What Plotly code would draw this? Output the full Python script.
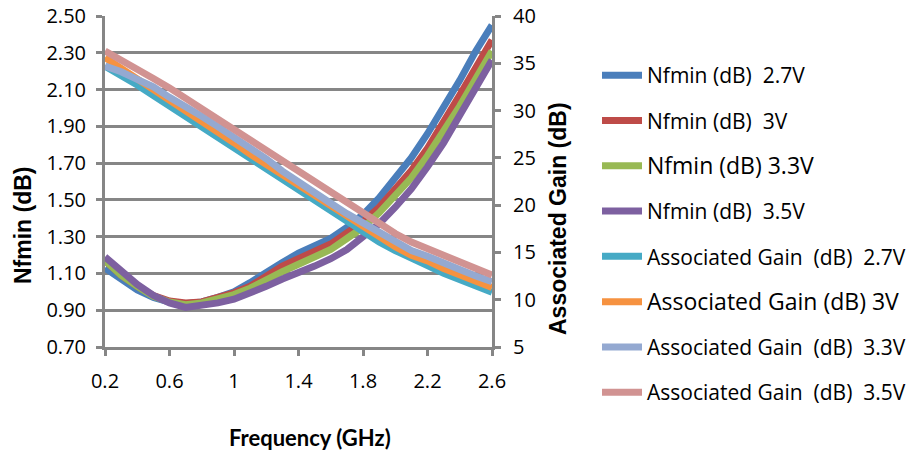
import plotly.graph_objects as go

freq = [0.2, 0.3, 0.4, 0.5, 0.6, 0.7, 0.8, 0.9, 1.0, 1.1, 1.2, 1.3, 1.4,
        1.5, 1.6, 1.7, 1.8, 1.9, 2.0, 2.1, 2.2, 2.3, 2.4, 2.5, 2.6]

nf_27 = [1.13, 1.07, 1.01, 0.97, 0.945, 0.935, 0.945, 0.97, 1.00, 1.05, 1.11, 1.16, 1.21,
         1.25, 1.29, 1.35, 1.42, 1.51, 1.62, 1.73, 1.86, 2.00, 2.15, 2.31, 2.45]
nf_30 = [1.17, 1.09, 1.03, 0.98, 0.95, 0.94, 0.945, 0.97, 0.995, 1.03, 1.09, 1.14, 1.18,
         1.22, 1.26, 1.32, 1.38, 1.46, 1.56, 1.66, 1.78, 1.92, 2.07, 2.22, 2.37]
nf_33 = [1.17, 1.09, 1.03, 0.975, 0.945, 0.93, 0.94, 0.96, 0.985, 1.02, 1.07, 1.11, 1.15,
         1.19, 1.23, 1.29, 1.35, 1.43, 1.52, 1.62, 1.74, 1.87, 2.01, 2.16, 2.31]
nf_35 = [1.19, 1.11, 1.04, 0.98, 0.94, 0.915, 0.925, 0.94, 0.96, 0.99, 1.03, 1.07, 1.10,
         1.14, 1.18, 1.23, 1.30, 1.37, 1.46, 1.56, 1.68, 1.81, 1.96, 2.11, 2.26]

ga_27 = [34.7, 33.8, 32.7, 31.6, 30.5, 29.4, 28.3, 27.2, 26.1, 24.9, 23.8, 22.7, 21.5,
         20.4, 19.3, 18.2, 17.2, 16.1, 15.2, 14.3, 13.6, 12.8, 12.1, 11.4, 10.8]
ga_30 = [35.6, 34.5, 33.2, 32.1, 31.1, 29.9, 28.8, 27.7, 26.6, 25.4, 24.3, 23.2, 22.0,
         20.9, 19.8, 18.7, 17.7, 16.6, 15.6, 14.7, 14.1, 13.3, 12.6, 12.0, 11.3]
ga_33 = [34.7, 34.1, 33.3, 32.5, 31.4, 30.5, 29.4, 28.3, 27.2, 26.0, 24.9, 23.6, 22.4,
         21.3, 20.2, 19.1, 18.1, 17.0, 16.0, 15.2, 14.6, 13.8, 13.2, 12.5, 11.9]
ga_35 = [36.3, 35.4, 34.4, 33.4, 32.4, 31.3, 30.2, 29.1, 28.0, 26.8, 25.7, 24.6, 23.4,
         22.3, 21.2, 20.1, 19.1, 18.0, 17.0, 16.1, 15.4, 14.6, 13.9, 13.2, 12.6]

nf_ticks = [0.7, 0.9, 1.1, 1.3, 1.5, 1.7, 1.9, 2.1, 2.3, 2.5]
ga_ticks = [5, 10, 15, 20, 25, 30, 35, 40]
f_ticks = [0.2, 0.6, 1.0, 1.4, 1.8, 2.2, 2.6]
f_labels = ["0.2", "0.6", "1", "1.4", "1.8", "2.2", "2.6"]

NB = "\u00a0"
series = [
    (f"Nfmin (dB){NB} 2.7V", nf_27, "y", "#4A7EBB", None),
    (f"Nfmin (dB){NB} 3V", nf_30, "y", "#BE4B48", None),
    ("Nfmin (dB) 3.3V", nf_33, "y", "#98B954", 23),
    (f"Nfmin (dB){NB} 3.5V", nf_35, "y", "#7D60A0", None),
    (f"Associated Gain{NB} (dB){NB} 2.7V", ga_27, "y2", "#46AAC5", None),
    ("Associated Gain (dB) 3V", ga_30, "y2", "#F69240", 23),
    (f"Associated Gain{NB} (dB){NB} 3.3V", ga_33, "y2", "#94A9D1", None),
    (f"Associated Gain{NB} (dB){NB} 3.5V", ga_35, "y2", "#D19392", None),
]

# plot frame lands at x 105..492, y 16..347 of the 909x452 picture
PX0, PX1, PY0, PY1 = 105, 492, 16, 347
W, H = 909, 452


def px(x):
    return (x - PX0) / (PX1 - PX0)


def py(y):
    return (PY1 - y) / (PY1 - PY0)


grid = "#868686"
fig = go.Figure()
for i, (name, vals, ax, col, fs) in enumerate(series):
    label = name if fs is None else f"<span style='font-size:{fs}px'>{name}</span>"
    fig.add_trace(go.Scatter(
        x=freq, y=vals, yaxis=ax, mode="lines", name=label,
        line=dict(color=col, width=7), legendgroup=f"g{i}",
    ))

tickfont = dict(family="Open Sans, sans-serif", size=20, color="black")
common = dict(showline=True, linecolor=grid, linewidth=3, ticks="outside",
              ticklen=6, tickwidth=3, tickcolor=grid, zeroline=False,
              tickfont=tickfont, ticklabeloverflow="allow")
fig.update_layout(
    width=W, height=H,
    margin=dict(l=PX0, r=W - PX1, t=PY0, b=H - PY1, autoexpand=False),
    paper_bgcolor="white", plot_bgcolor="white",
    font=dict(family="Open Sans, sans-serif", size=20, color="black"),
    showlegend=True,
    legend=dict(x=px(597), xanchor="left", y=py(55), yanchor="top",
                font=dict(size=21, family="Open Sans, sans-serif", color="black"),
                tracegroupgap=15, itemwidth=40, bgcolor="rgba(0,0,0,0)",
                maxheight=440),
    xaxis=dict(range=[0.2, 2.6], tickmode="array", tickvals=f_ticks,
               ticktext=f_labels, showgrid=False, ticklabelstandoff=8, **common),
    yaxis=dict(range=[0.7, 2.5], tickmode="array", tickvals=nf_ticks,
               tickformat=".2f", showgrid=True, gridcolor=grid, gridwidth=3,
               ticklabelstandoff=6, **common),
    yaxis2=dict(range=[5, 40], tickmode="array", tickvals=ga_ticks,
                overlaying="y", side="right", showgrid=False,
                ticklabelstandoff=8, **common),
    annotations=[
        dict(text="<b>Nfmin (dB)</b>", xref="paper", yref="paper",
             x=px(23), y=py(225), xanchor="center", yanchor="middle", textangle=-90,
             showarrow=False, font=dict(family="Liberation Sans, Arial", size=23)),
        dict(text="<b>Associated Gain (dB)</b>", xref="paper", yref="paper",
             x=px(558), y=py(219), xanchor="center", yanchor="middle", textangle=-90,
             showarrow=False, font=dict(family="Liberation Sans, Arial", size=23)),
        dict(text="<b>Frequency (GHz)</b>", xref="paper", yref="paper",
             x=px(310), y=py(437), xanchor="center", yanchor="middle",
             showarrow=False, font=dict(family="Lato, sans-serif", size=22)),
    ],
)

fig.write_html("out.html", config={"displayModeBar": False},
               post_script="document.body.style.margin='0';document.body.style.overflow='hidden';")
